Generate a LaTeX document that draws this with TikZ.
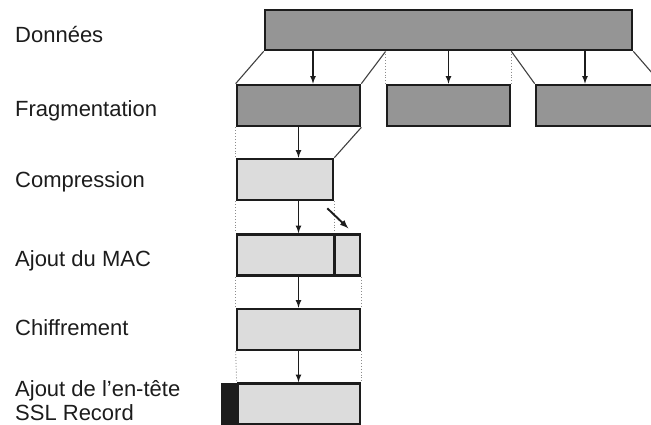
\documentclass[tikz,border=0pt]{standalone}
\usepackage{fontspec}
\setmainfont{Liberation Sans}
\usetikzlibrary{positioning}
\definecolor{fragfill}{HTML}{959595}
\definecolor{recfill}{HTML}{DCDCDC}
\definecolor{inkc}{HTML}{1C1C1C}
\tikzset{
  darkbox/.style={draw=inkc, fill=fragfill, rectangle, line width=2.7pt, inner sep=0pt, minimum height=41pt},
  lightbox/.style={draw=inkc, fill=recfill, rectangle, line width=2.7pt, inner sep=0pt, minimum height=41pt},
  hdrbox/.style={draw=inkc, fill=inkc, rectangle, line width=1pt, inner sep=0pt, minimum height=41pt, minimum width=15pt},
  arr/.style={->, draw=inkc, line width=1.6pt},
  slant/.style={draw=black!75, line width=1.1pt},
  guide/.style={draw=black!45, dotted, line width=0.9pt},
  lab/.style={anchor=base west, inner sep=0pt, text=inkc, font=\fontsize{22}{24}\selectfont, align=left}
}
\begin{document}
\begin{tikzpicture}[x=1pt, y=-1pt, >=latex]
\useasboundingbox (0,0) rectangle (651,425);
\clip (0,0) rectangle (651,425);

\node (dat)[darkbox, minimum height=40pt, minimum width=367pt] at (448.5,30) {};
\node (f1)[darkbox, minimum width=123pt] at (298.5,105.5) {};
\node (f2)[darkbox, minimum width=123pt] at (448.5,105.5) {};
\node (f3)[darkbox, minimum width=124pt] at (598,105.5) {};
\node (comp)[lightbox, minimum width=96pt] at (285,179.5) {};
\node (mac)[lightbox, minimum width=123pt] at (298.5,255) {};
\node (chif)[lightbox, minimum width=123pt] at (298.5,329.5) {};
\node (rec)[lightbox, minimum width=122pt] at (299,404) {};
\node (hdr)[hdrbox, left=0pt of rec] {};
\draw[inkc, line width=2.4pt](comp.south east |- mac.north)--(comp.south east |- mac.south);

% fragmentation
\draw[slant](dat.south west)--(f1.north west);
\draw[slant](f2.north west |- dat.south)--(f1.north east);
\draw[guide](f2.north west |- dat.south)--(f2.north west);
\draw[guide](f2.north east |- dat.south)--(f2.north east);
\draw[slant](f2.north east |- dat.south)--(f3.north west);
\draw[slant](dat.south east)--(f3.north east);
\foreach \n/\s in {f1/14.5,f2/0,f3/-13}
{
	\draw[arr]([xshift=\s pt]\n.north |- dat.south)--([xshift=\s pt]\n.north);
}

% traitement du premier fragment
\draw[guide](f1.south west)--(comp.north west);
\draw[slant](f1.south east)--(comp.north east);
\draw[guide](comp.south west)--(mac.north west);
\draw[guide](comp.south east)--(comp.south east |- mac.north);
\draw[guide](mac.south west)--(chif.north west);\draw[guide](mac.south east)--(chif.north east);
\draw[guide](chif.south west)--(rec.north west);\draw[guide](chif.south east)--(rec.north east);
\draw[arr](f1.south)--(f1.south |- comp.north);
\draw[arr](f1.south |- comp.south)--(mac.north);
\draw[arr](mac.south)--(chif.north);
\draw[arr](chif.south)--(chif.south |- rec.north);
\draw[->, draw=inkc, line width=1.9pt]([shift={(-7pt,-7pt)}]comp.south east)--([shift={(14pt,-27pt)}]comp.south east);

\foreach \y/\ytext in {43/Données,117/Fragmentation,187/Compression,266/Ajout du MAC,335/Chiffrement,420/{Ajout de l’en-tête\\SSL Record}}
{
	\node (lab\y)[lab] at (15,\y){\ytext};
}
\end{tikzpicture}
\end{document}
